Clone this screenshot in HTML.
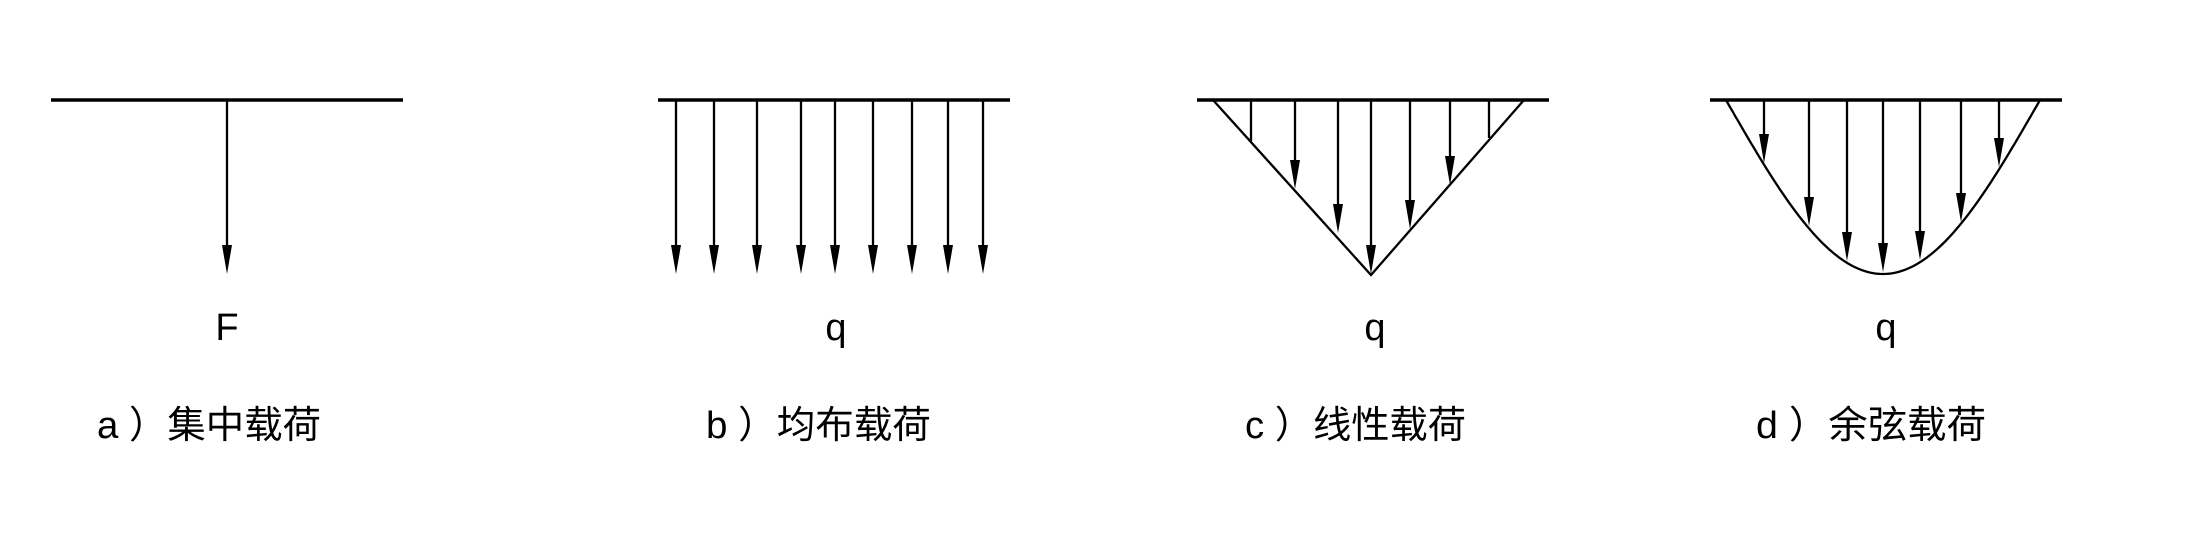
<!DOCTYPE html>
<html><head><meta charset="utf-8"><style>
html,body{margin:0;padding:0;background:#fff;}
svg{display:block}
text{font-family:"Liberation Sans","Noto Sans CJK SC",sans-serif;fill:#000}
</style></head><body>
<svg id="s" width="2208" height="550" viewBox="0 0 2208 550" xmlns="http://www.w3.org/2000/svg">
<g stroke="#000" stroke-width="3.5" fill="none">
<line x1="51" y1="100" x2="403" y2="100"/>
<line x1="658" y1="100" x2="1010" y2="100"/>
<line x1="1197" y1="100" x2="1549" y2="100"/>
<line x1="1710" y1="100" x2="2062" y2="100"/>
</g>
<g stroke="#000" stroke-width="2.3" fill="none">
<polyline points="1213,100 1371,275 1524,100"/>
<path id="cos" d=""/>
</g>
<g id="arrows"></g>
<text x="227" y="340" font-size="38" text-anchor="middle">F</text>
<text x="836" y="340" font-size="38" text-anchor="middle">q</text>
<text x="1375" y="340" font-size="38" text-anchor="middle">q</text>
<text x="1886" y="340" font-size="38" text-anchor="middle">q</text>
<text x="97" y="438" font-size="38" textLength="224" lengthAdjust="spacingAndGlyphs">a ）集中载荷</text>
<text x="706" y="438" font-size="38" textLength="225" lengthAdjust="spacingAndGlyphs">b ）均布载荷</text>
<text x="1245" y="438" font-size="38" textLength="221" lengthAdjust="spacingAndGlyphs">c ）线性载荷</text>
<text x="1756" y="438" font-size="38" textLength="230" lengthAdjust="spacingAndGlyphs">d ）余弦载荷</text>
</svg>
<script>
var ns="http://www.w3.org/2000/svg",g=document.getElementById("arrows");
function arrow(x,tip,head){
 var l=document.createElementNS(ns,"line");
 l.setAttribute("x1",x);l.setAttribute("y1",100);l.setAttribute("x2",x);l.setAttribute("y2",head?tip-20:tip);
 l.setAttribute("stroke","#000");l.setAttribute("stroke-width","2.3");g.appendChild(l);
 if(head){var p=document.createElementNS(ns,"polygon");
 p.setAttribute("points",(x-5)+","+(tip-29)+" "+(x+5)+","+(tip-29)+" "+x+","+tip);
 p.setAttribute("fill","#000");g.appendChild(p);}
}
arrow(227,274,1);
[676,714,757,801,835,873,912,948,983].forEach(function(x){arrow(x,274,1)});
[[1251,141,0],[1295,189,1],[1338,233,1],[1371,274,1],[1410,229,1],[1450,185,1],[1489,138,0]].forEach(function(a){arrow(a[0],a[1],a[2])});
var c=1883,h=157,d="";
for(var i=0;i<=100;i++){var x=(c-h)+i*(2*h)/100;var y=100+174*Math.cos(Math.PI*(x-c)/(2*h));d+=(i?"L":"M")+x.toFixed(1)+","+y.toFixed(1);}
document.getElementById("cos").setAttribute("d",d);
[1764,1809,1847,1883,1920,1961,1999].forEach(function(x){
 var y=100+174*Math.cos(Math.PI*(x-c)/(2*h));arrow(x,Math.round(y-2),1)});
</script>
</body></html>
